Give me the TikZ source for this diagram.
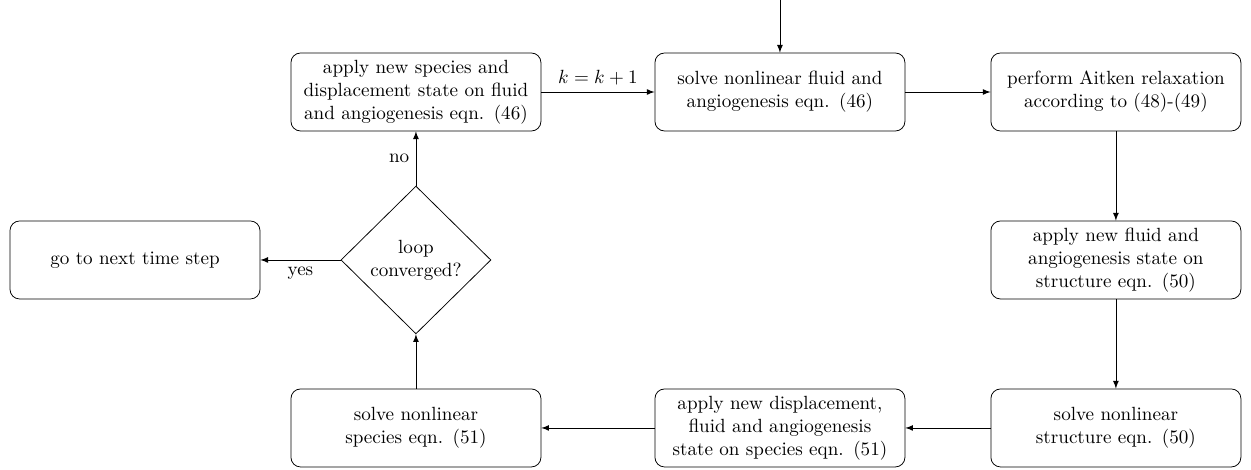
\documentclass[tikz,border=0pt]{standalone}
\usepackage{amsmath}
\usepackage{tikz}
\usetikzlibrary{shapes.geometric}

\begin{document}
\begin{tikzpicture}[>=latex,
    stepbox/.style={draw,rounded corners=5pt,minimum width=4.6cm,minimum height=1.435cm,
                    text width=4.2cm,align=center,inner sep=0pt},
    decision/.style={draw,diamond,minimum width=2.76cm,minimum height=2.72cm,
                     align=center,inner sep=0pt}]
    \useasboundingbox (0,0) rectangle (23.02,8.648);
    % Top row
    \node[stepbox] (apply)   at (7.654,6.955)  {apply new species and displacement state on fluid and angiogenesis eqn. (46)};
    \node[stepbox] (fluid)   at (14.352,6.955) {solve nonlinear fluid and angiogenesis eqn. (46)};
    \node[stepbox] (aitken)  at (20.534,6.955) {perform Aitken relaxation according to (48)-(49)};
    % Middle row
    \node[stepbox] (next)    at (2.484,3.864)  {go to next time step};
    \node[decision] (conv)   at (7.654,3.864)  {loop\\converged?};
    \node[stepbox] (applyS)  at (20.534,3.864) {apply new fluid and angiogenesis state on structure eqn. (50)};
    % Bottom row
    \node[stepbox] (struct)  at (20.534,0.773) {solve nonlinear structure eqn. (50)};
    \node[stepbox] (applyP)  at (14.352,0.773) {apply new displacement, fluid and angiogenesis state on species eqn. (51)};
    \node[stepbox] (species) at (7.654,0.773)  {solve nonlinear species eqn. (51)};
    \coordinate (start) at (14.352,8.648);
    % Connectors
    \draw[->] (start) -- (fluid);
    \draw[->] (apply) -- (fluid) node[midway,above]{$k=k+1$};
    \draw[->] (fluid) -- (aitken);
    \draw[->] (aitken) -- (applyS);
    \draw[->] (applyS) -- (struct);
    \draw[->] (struct) -- (applyP);
    \draw[->] (applyP) -- (species);
    \draw[->] (species) -- (conv);
    \draw[->] (conv) -- (apply) node[midway,left]{no};
    \draw[->] (conv) -- (next) node[midway,below]{yes};
\end{tikzpicture}
\end{document}
